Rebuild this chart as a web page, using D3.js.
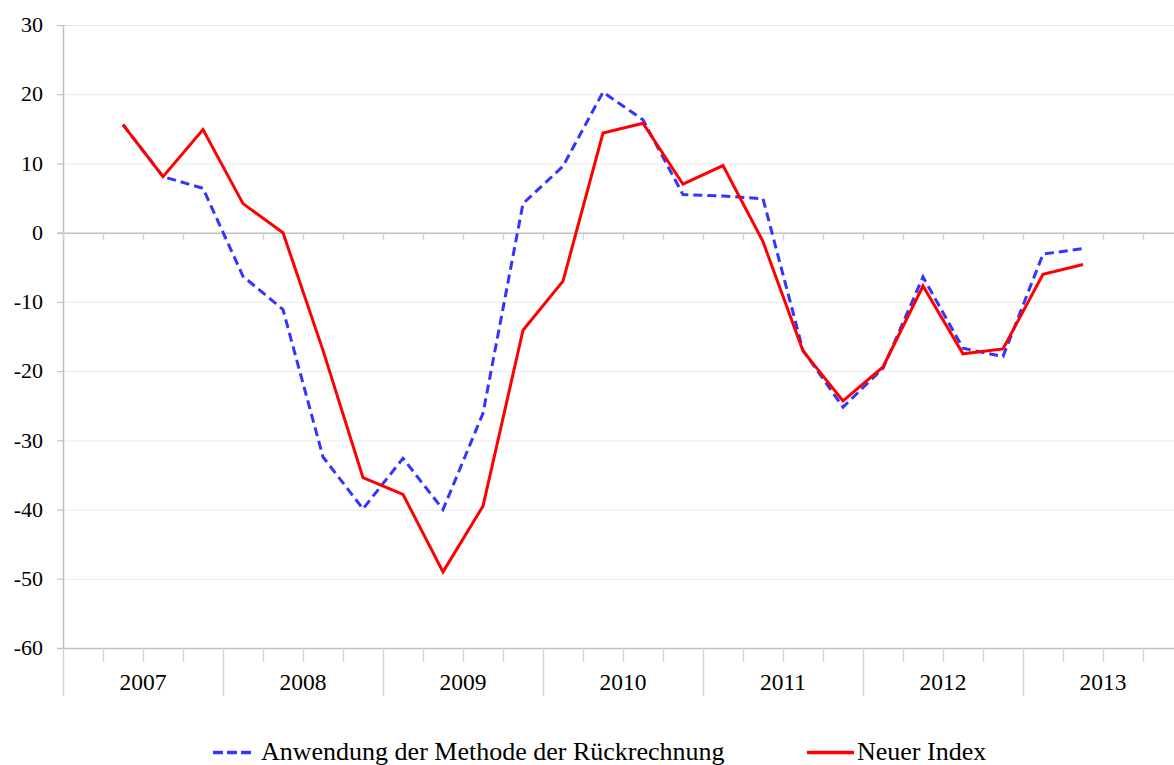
<!DOCTYPE html>
<html>
<head>
<meta charset="utf-8">
<script src="https://cdn.jsdelivr.net/npm/d3@7"></script>
<style>
  body { margin: 0; background: #fff; }
  text { font-family: "Liberation Serif", "Times New Roman", serif; fill: #000; }
</style>
</head>
<body>
<div class="viz"></div>
<script>
const years = ['2007', '2008', '2009', '2010', '2011', '2012', '2013']
const quarters = years.flatMap(y => ['Q1', 'Q2', 'Q3', 'Q4'].map(q => y + q))
// series start in 2007Q2
const dataQuarters = quarters.slice(1, 26)
const rueckrechnung = [15.6, 8.1, 6.4, -6.3, -11.1, -32.4, -39.9, -32.6, -40, -26.1, 4.2, 9.6, 20.3, 16.3, 5.5, 5.3, 4.9, -17, -25.2, -19.6, -6.4, -16.7, -17.9, -3.1, -2.3]
const neuerIndex = [15.6, 8.1, 14.9, 4.2, 0, -17, -35.4, -37.8, -49, -39.5, -14.1, -7, 14.4, 15.8, 7.0, 9.7, -1.3, -17.1, -24.3, -19.4, -7.7, -17.5, -16.8, -6.0, -4.6]
const yTicks = [30, 20, 10, 0, -10, -20, -30, -40, -50, -60]
const seriesNames = ['Anwendung der Methode der Rückrechnung', 'Neuer Index']

const width = 1174
const height = 765
const margin = {top: 25, left: 63, bottom: 117}

const svg = d3.select('.viz').append('svg')
  .attr('width', width)
  .attr('height', height)

const x = d3.scaleBand()
  .domain(quarters)
  .range([margin.left, margin.left + quarters.length * 40])

const y = d3.scaleLinear()
  .domain([-60, 30])
  .range([height - margin.bottom, margin.top])

// gridlines
svg.append('g')
  .selectAll('line')
  .data(yTicks)
  .join('line')
    .attr('x1', margin.left - 6)
    .attr('x2', width)
    .attr('y1', d => y(d) + 0.5)
    .attr('y2', d => y(d) + 0.5)
    .attr('stroke', d => d === 30 ? '#e2e2e2' : d === 0 || d === -60 ? '#c0c0c0' : '#efefef')
    .attr('stroke-width', d => d === 0 || d === -60 ? 1.5 : 1.2)

// short left tick marks
svg.append('g')
  .selectAll('line')
  .data(yTicks)
  .join('line')
    .attr('x1', margin.left - 6)
    .attr('x2', margin.left)
    .attr('y1', d => y(d) + 0.5)
    .attr('y2', d => y(d) + 0.5)
    .attr('stroke', '#c0c0c0')

// y axis line
svg.append('line')
  .attr('x1', margin.left + 0.5).attr('x2', margin.left + 0.5)
  .attr('y1', y(30)).attr('y2', y(-60))
  .attr('stroke', '#c0c0c0')
  .attr('stroke-width', 1.5)

svg.append('g')
  .selectAll('text')
  .data(yTicks)
  .join('text')
    .attr('x', margin.left - 20)
    .attr('y', d => y(d))
    .attr('dy', '0.33em')
    .attr('text-anchor', 'end')
    .style('font-size', '22px')
    .text(d => d)

// ticks hanging from the zero line
svg.append('g')
  .selectAll('line')
  .data(quarters)
  .join('line')
    .attr('x1', d => x(d) + 0.5)
    .attr('x2', d => x(d) + 0.5)
    .attr('y1', y(0))
    .attr('y2', y(0) + 7)
    .attr('stroke', '#d4d4d4')
    .attr('stroke-width', 1.5)

// category ticks at the bottom
svg.append('g')
  .selectAll('line')
  .data(quarters.concat(['end']))
  .join('line')
    .attr('x1', (d, i) => margin.left + i * x.bandwidth() + 0.5)
    .attr('x2', (d, i) => margin.left + i * x.bandwidth() + 0.5)
    .attr('y1', y(-60))
    .attr('y2', (d, i) => i % 4 === 0 ? y(-60) + 48 : y(-60) + 14)
    .attr('stroke', '#d4d4d4')
    .attr('stroke-width', 1.5)

svg.append('g')
  .selectAll('text')
  .data(years)
  .join('text')
    .attr('x', d => x(d + 'Q3'))
    .attr('y', y(-60) + 42)
    .attr('text-anchor', 'middle')
    .style('font-size', '23.5px')
    .text(d => d)

const line = d3.line()
  .x((d, i) => x(dataQuarters[i]) + x.bandwidth() / 2)
  .y(d => y(d))

svg.append('path')
  .datum(rueckrechnung)
  .attr('d', line)
  .attr('fill', 'none')
  .attr('stroke', '#3535ff')
  .attr('stroke-width', 3)
  .attr('stroke-dasharray', '9,5')

svg.append('path')
  .datum(neuerIndex)
  .attr('d', line)
  .attr('fill', 'none')
  .attr('stroke', '#ff0000')
  .attr('stroke-width', 3)
  .attr('stroke-linejoin', 'miter')

// legend
const legendY = 752.5
const legend = svg.append('g')
legend.append('line')
  .attr('x1', 213).attr('x2', 252)
  .attr('y1', legendY).attr('y2', legendY)
  .attr('stroke', '#3535ff').attr('stroke-width', 3.5).attr('stroke-dasharray', '10,4')
legend.append('text')
  .attr('x', 261).attr('y', 760)
  .style('font-size', '26px')
  .text(seriesNames[0])
legend.append('line')
  .attr('x1', 807).attr('x2', 854)
  .attr('y1', legendY).attr('y2', legendY)
  .attr('stroke', '#ff0000').attr('stroke-width', 3.5)
legend.append('text')
  .attr('x', 857).attr('y', 760)
  .style('font-size', '26px')
  .text(seriesNames[1])
</script>
</body>
</html>
